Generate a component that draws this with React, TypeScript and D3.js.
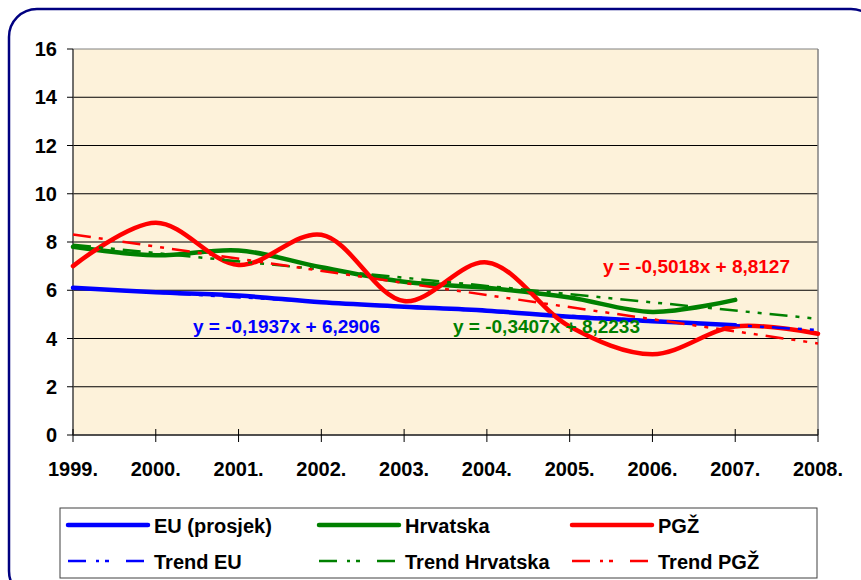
import React from "react";
import * as d3 from "d3";

const years = ["1999.", "2000.", "2001.", "2002.", "2003.", "2004.", "2005.", "2006.", "2007.", "2008."];
const euValues = [6.1, 5.92, 5.78, 5.5, 5.32, 5.15, 4.9, 4.72, 4.55];
const hrValues = [7.8, 7.45, 7.65, 6.95, 6.35, 6.1, 5.7, 5.1, 5.6];
const pgzValues = [7.0, 8.8, 7.05, 8.3, 5.55, 7.15, 4.5, 3.35, 4.5, 4.2];
const yTicks = [0, 2, 4, 6, 8, 10, 12, 14, 16];

// trend equations y = a*x + b (x = 1..n), with number of periods drawn
const trendEU = { a: -0.1937, b: 6.2906, n: 10, label: "y = -0,1937x + 6,2906" };
const trendHR = { a: -0.3407, b: 8.2233, n: 10, label: "y = -0,3407x + 8,2233" };
const trendPGZ = { a: -0.5018, b: 8.8127, n: 10, label: "y = -0,5018x + 8,8127" };

const BLUE = "#0000FF";
const GREEN = "#008000";
const RED = "#FF0000";
const FONT = "'Liberation Sans', Arial, sans-serif";
const DASH = "18 8 4 8 4 8";

export default function App() {
  const W = 861, H = 580;
  const left = 73, right = 818, top = 49, bottom = 435;
  const x = d3.scalePoint<string>().domain(years).range([left, right]).padding(0);
  const y = d3.scaleLinear().domain([0, 16]).range([bottom, top]);

  const line = d3
    .line<number>()
    .x((_, i) => x(years[i]) as number)
    .y((d) => y(d))
    .curve(d3.curveCatmullRom.alpha(0.5));

  const trendPath = (t: { a: number; b: number; n: number }) => {
    const p = [1, t.n].map((k) => [x(years[k - 1]) as number, y(t.a * k + t.b)]);
    return `M${p[0][0]},${p[0][1]}L${p[1][0]},${p[1][1]}`;
  };

  const legendItems = [
    { label: "EU (prosjek)", color: BLUE, dash: false, col: 0, row: 0 },
    { label: "Hrvatska", color: GREEN, dash: false, col: 1, row: 0 },
    { label: "PGŽ", color: RED, dash: false, col: 2, row: 0 },
    { label: "Trend EU", color: BLUE, dash: true, col: 0, row: 1 },
    { label: "Trend Hrvatska", color: GREEN, dash: true, col: 1, row: 1 },
    { label: "Trend PGŽ", color: RED, dash: true, col: 2, row: 1 },
  ];
  const colX = [68, 319, 572];
  const rowY = [525, 561];

  return (
    <svg
      width={W}
      height={H}
      style={{ position: "absolute", left: 0, top: 0, background: "#fff" }}
      fontFamily={FONT}
    >
      <rect x={9} y={9} width={870} height={590} rx={28} ry={28} fill="#fff" stroke="#000080" strokeWidth={2.5} />

      {/* plot area */}
      <rect x={left} y={top} width={right - left} height={bottom - top} fill="#FDF2DA" />
      {yTicks.map((t) => (
        <line key={"g" + t} x1={left} x2={right} y1={y(t)} y2={y(t)} stroke={t === 16 ? "#808080" : "#000"} strokeWidth={1} />
      ))}
      <line x1={right} x2={right} y1={top} y2={bottom} stroke="#808080" strokeWidth={1.5} />
      <line x1={left} x2={left} y1={top} y2={bottom} stroke="#404040" strokeWidth={1.5} />
      <line x1={left} x2={right} y1={bottom} y2={bottom} stroke="#404040" strokeWidth={1.5} />

      {/* y ticks */}
      {yTicks.map((t) => (
        <g key={"y" + t}>
          <line x1={left - 6} x2={left} y1={y(t)} y2={y(t)} stroke="#000" strokeWidth={1} />
          <text x={57} y={y(t)} textAnchor="end" dominantBaseline="central" fontSize={20} fontWeight="bold">
            {t}
          </text>
        </g>
      ))}
      {/* x ticks */}
      {years.map((yr) => (
        <g key={yr}>
          <line x1={x(yr)} x2={x(yr)} y1={bottom - 6} y2={bottom + 7} stroke="#000" strokeWidth={1} />
          <text x={x(yr)} y={469} textAnchor="middle" dominantBaseline="central" fontSize={20} fontWeight="bold">
            {yr}
          </text>
        </g>
      ))}

      {/* data lines */}
      <path d={line(euValues) || ""} fill="none" stroke={BLUE} strokeWidth={4.5} strokeLinecap="round" />
      <path d={line(hrValues) || ""} fill="none" stroke={GREEN} strokeWidth={4.5} strokeLinecap="round" />
      <path d={line(pgzValues) || ""} fill="none" stroke={RED} strokeWidth={4.5} strokeLinecap="round" />

      {/* trends */}
      <path d={trendPath(trendEU)} stroke={BLUE} strokeWidth={2.5} strokeDasharray={DASH} fill="none" />
      <path d={trendPath(trendHR)} stroke={GREEN} strokeWidth={2.5} strokeDasharray={DASH} fill="none" />
      <path d={trendPath(trendPGZ)} stroke={RED} strokeWidth={2.5} strokeDasharray={DASH} fill="none" />

      {/* equations */}
      <text x={193} y={326} dominantBaseline="central" fontSize={19} fontWeight="bold" fill={BLUE}>
        {trendEU.label}
      </text>
      <text x={453} y={326} dominantBaseline="central" fontSize={19} fontWeight="bold" fill={GREEN}>
        {trendHR.label}
      </text>
      <text x={603} y={266} dominantBaseline="central" fontSize={19} fontWeight="bold" fill={RED}>
        {trendPGZ.label}
      </text>

      {/* legend */}
      <rect x={60} y={508} width={757} height={70} fill="#fff" stroke="#404040" strokeWidth={1} />
      {legendItems.map((it) => (
        <g key={it.label}>
          <line
            x1={colX[it.col]}
            x2={colX[it.col] + (it.dash ? 78 : 80)}
            y1={rowY[it.row]}
            y2={rowY[it.row]}
            stroke={it.color}
            strokeWidth={it.dash ? 2.5 : 4.5}
            strokeLinecap={it.dash ? "butt" : "round"}
            strokeDasharray={it.dash ? "18 10 3 6 4 17" : undefined}
          />
          <text x={colX[it.col] + 86} y={rowY[it.row] + 1} dominantBaseline="central" fontSize={20} fontWeight="bold">
            {it.label}
          </text>
        </g>
      ))}
    </svg>
  );
}
